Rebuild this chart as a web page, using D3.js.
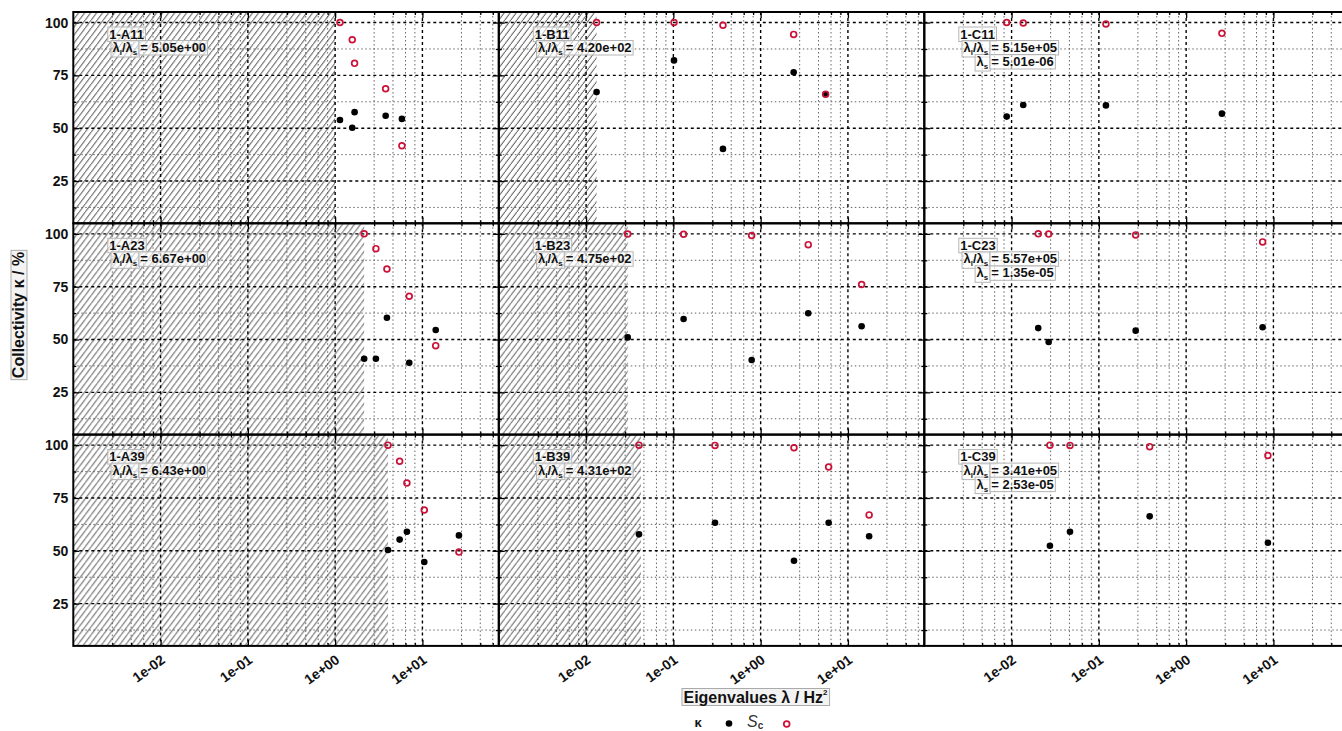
<!DOCTYPE html>
<html><head><meta charset="utf-8">
<script src="https://cdn.jsdelivr.net/npm/d3@7"></script>
<style>
body{margin:0;background:#fff;}
svg{display:block;font-family:"Liberation Sans",Arial,Helvetica,sans-serif;}
</style></head><body>
<svg id="chart" width="1342" height="731"></svg>
<script>
// ---------------- data ----------------
const panelNames = ["1-A11","1-B11","1-C11","1-A23","1-B23","1-C23","1-A39","1-B39","1-C39"];
// eigenvalues λ (Hz^2), collectivity κ (%), S_c (%)
const lamA11 = [1.135, 1.57, 1.67, 3.79, 5.82];
const kapA11 = [53.9, 50.2, 57.6, 55.9, 54.4];
const scA11  = [100, 91.9, 80.7, 68.7, 41.7];
const lamB11 = [0.0132, 0.1017, 0.37, 2.39, 5.55];
const kapB11 = [67.1, 82.1, 40.2, 76.5, 66.1];
const scB11  = [100, 100, 98.7, 94.4, 66.1];
const lamC11 = [0.00879, 0.0136, 0.1205, 2.57];
const kapC11 = [55.5, 61.0, 60.8, 56.9];
const scC11  = [100, 99.8, 99.3, 94.9];
const lamA23 = [2.15, 2.93, 3.92, 7.06, 14.2];
const kapA23 = [40.9, 40.9, 60.3, 39.0, 54.5];
const scA23  = [100, 93.0, 83.4, 70.5, 47.1];
const lamB23 = [0.030, 0.131, 0.789, 3.51, 14.35];
const kapB23 = [51.0, 59.7, 40.3, 62.4, 56.3];
const scB23  = [99.9, 99.8, 99.2, 94.9, 76.0];
const lamC23 = [0.0202, 0.0266, 0.264, 7.52];
const kapC23 = [55.4, 48.8, 54.2, 55.8];
const scC23  = [100, 99.9, 99.5, 96.2];
const lamA39 = [4.03, 5.48, 6.64, 10.5, 26.2];
const kapA39 = [50.4, 55.3, 59.0, 44.7, 57.3];
const scA39  = [100, 92.4, 82.1, 69.3, 49.4];
const lamB39 = [0.0404, 0.300, 2.41, 6.01, 17.5];
const kapB39 = [57.8, 63.3, 45.3, 63.3, 56.9];
const scB39  = [100, 99.9, 98.8, 89.7, 67.0];
const lamC39 = [0.0275, 0.0467, 0.382, 8.65];
const kapC39 = [52.4, 59.0, 66.3, 53.8];
const scC39  = [100, 99.9, 99.3, 95.1];

const ratioLabels   = ["5.05e+00","4.20e+02","5.15e+05","6.67e+00","4.75e+02","5.57e+05","6.43e+00","4.31e+02","3.41e+05"];
const lambdaSLabels = [null, null, "5.01e-06", null, null, "1.35e-05", null, null, "2.53e-05"];
const hatchLimits   = [1.0, 0.0132, null, 2.15, 0.030, null, 4.03, 0.0425, null];

const xMajorTicks = [1e-2, 1e-1, 1, 10];
const xTickLabels = ["1e-02", "1e-01", "1e+00", "1e+01"];
const xDecades    = [1e-3, 1e-2, 1e-1, 1, 10];
const xMinorMult  = [2.8, 4.6, 6.4, 8.2];
const yMajorTicks = [25, 50, 75, 100];
const yMinorTicks = [12.5, 37.5, 62.5, 87.5];

const lamAll = [lamA11,lamB11,lamC11,lamA23,lamB23,lamC23,lamA39,lamB39,lamC39];
const kapAll = [kapA11,kapB11,kapC11,kapA23,kapB23,kapC23,kapA39,kapB39,kapC39];
const scAll  = [scA11,scB11,scC11,scA23,scB23,scC23,scA39,scB39,scC39];

// ---------------- layout ----------------
const L = 73.3, T = 12, W = 425.5, H = 211.3;
const RED = "#cc1238";
const FONT = '"Liberation Sans",Arial,Helvetica,sans-serif';

const svg = d3.select("#chart");
const defs = svg.append("defs");
const pat = defs.append("pattern").attr("id","hatch").attr("patternUnits","userSpaceOnUse")
  .attr("width",6).attr("height",8);
pat.append("path").attr("d","M-1.5,10 L7.5,-2").attr("stroke","#1e1e1e").attr("stroke-width",0.9);

const x = d3.scaleLog().domain([1e-3, 75]).range([0, W]);
const y = d3.scaleLinear().domain([5, 105]).range([H, 0]);

const xMinor = [];
xDecades.forEach(d => xMinorMult.forEach(m => { const v = d*m; if (v <= 75) xMinor.push(v); }));

panelNames.forEach((name, i) => {
  const col = i % 3, row = Math.floor(i / 3);
  const g = svg.append("g").attr("transform", `translate(${L + col*W},${T + row*H})`);
  defs.append("clipPath").attr("id","clip"+i).append("rect").attr("width",W).attr("height",H);
  const inner = g.append("g").attr("clip-path",`url(#clip${i})`);

  // hatch
  if (hatchLimits[i] !== null) {
    inner.append("rect").attr("x",0).attr("y",0).attr("width",x(hatchLimits[i])).attr("height",H)
      .attr("fill","url(#hatch)");
  }
  // minor grids
  inner.selectAll(".vmin").data(xMinor).join("line")
    .attr("x1",d=>x(d)).attr("x2",d=>x(d)).attr("y1",0).attr("y2",H)
    .attr("stroke","#555").attr("stroke-width",0.9).attr("stroke-dasharray","1.5,2.5");
  inner.selectAll(".hmin").data(yMinorTicks).join("line")
    .attr("x1",0).attr("x2",W).attr("y1",d=>y(d)).attr("y2",d=>y(d))
    .attr("stroke","#555").attr("stroke-width",0.9).attr("stroke-dasharray","1.5,2.5");
  // major grids
  inner.selectAll(".vmaj").data(xMajorTicks).join("line")
    .attr("x1",d=>x(d)).attr("x2",d=>x(d)).attr("y1",0).attr("y2",H)
    .attr("stroke","#000").attr("stroke-width",1.4).attr("stroke-dasharray","3,3");
  inner.selectAll(".hmaj").data(yMajorTicks).join("line")
    .attr("x1",0).attr("x2",W).attr("y1",d=>y(d)).attr("y2",d=>y(d))
    .attr("stroke","#000").attr("stroke-width",1.4).attr("stroke-dasharray","3,3");

  // label
  const lab = g.append("g").attr("font-family",FONT).attr("font-weight","bold").attr("font-size",13).attr("fill","#111");
  const texts = [];
  texts.push(lab.append("text").attr("x",36).attr("y",26.5).text(name));
  const t2a = lab.append("text").attr("x",64).attr("y",40).attr("text-anchor","end");
  t2a.append("tspan").text("λ");
  t2a.append("tspan").attr("font-size",8).attr("dy",3).text("l");
  t2a.append("tspan").attr("dy",-3).text("/λ");
  t2a.append("tspan").attr("font-size",8).attr("dy",3).text("s");
  texts.push(t2a);
  texts.push(lab.append("text").attr("x",67).attr("y",40).text("= " + ratioLabels[i]));
  if (lambdaSLabels[i]) {
    const t3a = lab.append("text").attr("x",64).attr("y",54).attr("text-anchor","end");
    t3a.append("tspan").text("λ");
    t3a.append("tspan").attr("font-size",8).attr("dy",3).text("s");
    texts.push(t3a);
    texts.push(lab.append("text").attr("x",67).attr("y",54).text("= " + lambdaSLabels[i]));
  }
  texts.forEach(t => {
    const b = t.node().getBBox();
    lab.insert("rect","text").attr("x",b.x-1.5).attr("y",b.y+0.5).attr("width",b.width+3).attr("height",b.height-0.5)
      .attr("fill","#fff").attr("fill-opacity",0.6).attr("stroke","#b5b5b5").attr("stroke-width",1);
  });

  // points
  const pts = lamAll[i].map((l, j) => ({l, k: kapAll[i][j], s: scAll[i][j]}));
  inner.selectAll(".kap").data(pts).join("circle")
    .attr("cx",d=>x(d.l)).attr("cy",d=>y(d.k)).attr("r",3.3).attr("fill","#000");
  inner.selectAll(".sc").data(pts).join("circle")
    .attr("cx",d=>x(d.l)).attr("cy",d=>y(d.s)).attr("r",2.9).attr("fill","none")
    .attr("stroke",RED).attr("stroke-width",1.7);

  // axes (inward ticks)
  const styleAxis = sel => { sel.select(".domain").remove(); sel.selectAll(".tick line").attr("stroke","#000").attr("stroke-width",1.3);
    sel.attr("font-family",FONT).attr("font-size",14).attr("font-weight","bold"); };
  const bot = g.append("g").attr("transform",`translate(0,${H})`)
    .call(d3.axisBottom(x).tickValues(xMajorTicks).tickSize(-6)
      .tickFormat((d, j) => row === 2 ? xTickLabels[xMajorTicks.indexOf(d)] : ""));
  styleAxis(bot);
  bot.selectAll(".tick text").attr("x",0).attr("y",0).attr("dy",0).attr("fill","#111")
    .attr("text-anchor","end").attr("transform","translate(5,16) rotate(-36)");
  g.append("g").attr("transform",`translate(0,${H})`)
    .call(d3.axisBottom(x).tickValues(xMinor).tickSize(-3).tickFormat(() => "")).call(styleAxis);
  g.append("g").call(d3.axisTop(x).tickValues(xMajorTicks).tickSize(-6).tickFormat(() => "")).call(styleAxis);
  g.append("g").call(d3.axisTop(x).tickValues(xMinor).tickSize(-3).tickFormat(() => "")).call(styleAxis);
  const left = g.append("g")
    .call(d3.axisLeft(y).tickValues(yMajorTicks).tickSize(-6).tickPadding(5)
      .tickFormat(d => col === 0 ? d : ""));
  styleAxis(left);
  left.selectAll(".tick text").attr("fill","#111");
  g.append("g").call(d3.axisLeft(y).tickValues(yMinorTicks).tickSize(-3).tickFormat(() => "")).call(styleAxis);
  g.append("g").attr("transform",`translate(${W},0)`)
    .call(d3.axisRight(y).tickValues(yMajorTicks).tickSize(-6).tickFormat(() => "")).call(styleAxis);
  g.append("g").attr("transform",`translate(${W},0)`)
    .call(d3.axisRight(y).tickValues(yMinorTicks).tickSize(-3).tickFormat(() => "")).call(styleAxis);

  // frame
  g.append("rect").attr("width",W).attr("height",H).attr("fill","none").attr("stroke","#000").attr("stroke-width",2);
});

// axis titles
function boxedText(node, pad) {
  const b = node.getBBox();
  d3.select(node.parentNode).insert("rect", () => node)
    .attr("x",b.x-pad).attr("y",b.y+1).attr("width",b.width+2*pad).attr("height",b.height-1)
    .attr("fill","#f3f3f3").attr("stroke","#aaa").attr("stroke-width",1);
}
const yt = svg.append("g").attr("transform","translate(24,315) rotate(-90)");
const ytText = yt.append("text").attr("text-anchor","middle").attr("font-family",FONT)
  .attr("font-weight","bold").attr("font-size",16).attr("fill","#111").text("Collectivity κ / %");
boxedText(ytText.node(), 1.5);

const xt = svg.append("g");
const xtText = xt.append("text").attr("x",755.5).attr("y",702.5).attr("text-anchor","middle").attr("font-family",FONT)
  .attr("font-weight","bold").attr("font-size",16).attr("fill","#111");
xtText.append("tspan").text("Eigenvalues λ / Hz");
xtText.append("tspan").attr("font-size",8).attr("dy",-8).text("2");
boxedText(xtText.node(), 1.5);

// legend
const lg = svg.append("g").attr("font-family",FONT);
lg.append("text").attr("x",698).attr("y",727).attr("text-anchor","middle").attr("font-weight","bold")
  .attr("font-size",13).attr("fill","#111").text("κ");
lg.append("circle").attr("cx",729).attr("cy",723.5).attr("r",3.3).attr("fill","#000");
const sl = lg.append("text").attr("x",747).attr("y",727).attr("font-size",16).attr("font-style","italic").attr("fill","#333");
sl.append("tspan").text("S");
sl.append("tspan").attr("font-size",10).attr("dy",1.5).attr("font-style","normal").attr("font-weight","bold").text("c");
lg.append("circle").attr("cx",786.7).attr("cy",724).attr("r",2.9).attr("fill","none").attr("stroke",RED).attr("stroke-width",1.7);
</script>
</body></html>
